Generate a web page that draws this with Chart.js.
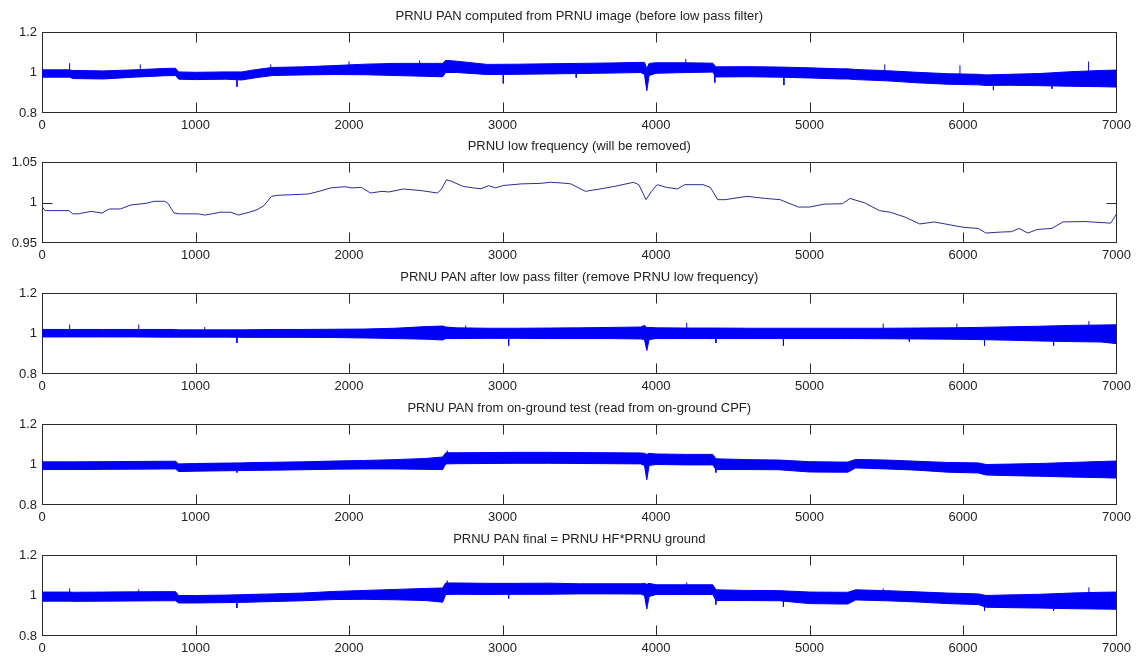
<!DOCTYPE html>
<html>
<head>
<meta charset="utf-8">
<script src="https://cdn.jsdelivr.net/npm/chart.js"></script>
<style>
  body { margin: 0; background: #fff; }
  .panel { position: absolute; left: 0; width: 1136px; height: 130px; }
</style>
</head>
<body>
<div class="panel" style="top:0px"><canvas id="c1" width="1136" height="130"></canvas></div>
<div class="panel" style="top:130px"><canvas id="c2" width="1136" height="130"></canvas></div>
<div class="panel" style="top:261px"><canvas id="c3" width="1136" height="130"></canvas></div>
<div class="panel" style="top:392px"><canvas id="c4" width="1136" height="130"></canvas></div>
<div class="panel" style="top:523px"><canvas id="c5" width="1136" height="130"></canvas></div>

<script>
// sample positions used for the envelopes of the noisy PAN profiles
const xs = [0,180,200,400,600,800,870,890,1000,1200,1300,1400,1500,1700,1900,
  2100,2300,2500,2610,2630,2700,2900,3100,3300,3500,3700,3900,3925,3940,3955,
  4000,4200,4370,4390,4600,4800,5000,5200,5250,5300,5500,5700,5900,
  6100,6150,6300,6500,6700,6900,7000];

// plot 1 : PRNU computed from image (upper / lower edge of the noise band)
const upper1 = [1.013,1.013,1.010,1.008,1.013,1.020,1.021,1.003,1.001,1.003,1.003,1.015,1.025,1.028,1.034,
  1.041,1.045,1.045,1.045,1.060,1.056,1.040,1.041,1.043,1.045,1.047,1.050,1.050,1.020,1.045,
  1.048,1.048,1.046,1.028,1.029,1.027,1.023,1.018,1.018,1.015,1.009,1.001,0.994,
  0.991,0.988,0.991,0.995,1.004,1.010,1.012];
const lower1 = [0.977,0.977,0.970,0.968,0.977,0.984,0.985,0.967,0.965,0.967,0.963,0.975,0.985,0.988,0.990,
  0.989,0.985,0.981,0.979,1.000,1.000,0.990,0.991,0.993,0.995,0.997,1.000,0.990,0.910,0.985,
  0.996,1.000,1.002,0.978,0.979,0.977,0.973,0.968,0.968,0.965,0.959,0.949,0.942,
  0.939,0.936,0.937,0.935,0.932,0.930,0.928];

// plot 3 : after low pass filter
const upper3 = [1.020,1.020,1.020,1.020,1.020,1.020,1.020,1.018,1.018,1.018,1.018,1.019,1.020,1.020,1.021,
  1.022,1.026,1.034,1.037,1.032,1.028,1.026,1.026,1.027,1.028,1.030,1.032,1.040,1.030,1.030,
  1.028,1.027,1.027,1.027,1.026,1.026,1.026,1.026,1.026,1.026,1.026,1.027,1.028,
  1.030,1.031,1.033,1.036,1.040,1.042,1.043];
const lower3 = [0.983,0.983,0.983,0.983,0.983,0.982,0.982,0.982,0.982,0.982,0.981,0.981,0.981,0.981,0.980,
  0.978,0.975,0.972,0.968,0.975,0.975,0.976,0.976,0.975,0.975,0.975,0.973,0.970,0.916,0.970,
  0.975,0.975,0.975,0.975,0.975,0.975,0.975,0.975,0.975,0.975,0.974,0.973,0.972,
  0.970,0.969,0.967,0.963,0.960,0.958,0.950];

// plot 4 : on-ground test
const upper4 = [1.013,1.013,1.013,1.014,1.015,1.016,1.016,1.003,1.005,1.007,1.008,1.010,1.011,1.013,1.017,
  1.020,1.024,1.030,1.037,1.058,1.058,1.059,1.060,1.060,1.059,1.058,1.057,1.055,1.050,1.055,
  1.052,1.050,1.050,1.028,1.024,1.022,1.014,1.012,1.012,1.025,1.022,1.016,1.010,
  1.008,1.000,1.002,1.005,1.010,1.015,1.017];
const lower4 = [0.975,0.975,0.975,0.976,0.977,0.978,0.978,0.965,0.967,0.969,0.970,0.971,0.972,0.974,0.977,
  0.978,0.978,0.976,0.975,1.003,1.004,1.005,1.006,1.006,1.005,1.004,1.003,0.995,0.925,0.995,
  1.000,0.998,0.998,0.975,0.975,0.974,0.963,0.962,0.962,0.983,0.978,0.972,0.962,
  0.958,0.948,0.945,0.942,0.938,0.935,0.933];

// plot 5 : final = HF * ground
const upper5 = [1.017,1.017,1.016,1.017,1.018,1.019,1.019,1.000,1.000,1.002,1.004,1.006,1.008,1.012,1.020,
  1.025,1.030,1.035,1.037,1.062,1.062,1.060,1.060,1.061,1.058,1.058,1.058,1.060,1.055,1.060,
  1.053,1.053,1.053,1.028,1.025,1.024,1.017,1.016,1.016,1.028,1.024,1.018,1.012,
  1.008,1.000,1.003,1.006,1.012,1.016,1.017];
const lower5 = [0.972,0.972,0.971,0.972,0.973,0.974,0.974,0.963,0.963,0.965,0.966,0.968,0.970,0.974,0.980,
  0.981,0.979,0.975,0.967,1.005,1.006,1.005,1.006,1.006,1.008,1.008,1.007,1.000,0.933,0.995,
  1.005,1.005,1.005,0.975,0.975,0.974,0.960,0.958,0.958,0.978,0.974,0.968,0.960,
  0.955,0.942,0.940,0.938,0.935,0.933,0.932];

// isolated spikes sticking out of the bands (position, tip value)
const spikeX1 = [180,640,1270,1490,2000,2460,3005,3480,4194,4383,4833,5490,5980,6198,6579,6818];
const spikeY1 = [1.046,1.040,0.930,1.040,1.055,1.060,0.946,0.975,1.067,0.950,0.938,1.040,1.035,0.913,0.920,1.054];
const spikeX3 = [180,630,1060,1270,2760,3040,4200,4390,4830,5480,5650,5960,6140,6590,6820];
const spikeY3 = [1.044,1.044,1.032,0.953,1.040,0.940,1.052,0.953,0.940,1.049,0.960,1.049,0.940,0.940,1.062];
const spikeX4 = [1270,2640,4390];
const spikeY4 = [0.960,1.070,0.960];
const spikeX5 = [180,630,1270,2640,3040,4200,4390,4830,5480,6140,6590,6820];
const spikeY5 = [1.035,1.030,0.938,1.075,0.985,1.065,0.955,0.945,1.035,0.925,0.925,1.040];

// plot 2 : low frequency component
const x2 = [0,20,60,175,200,235,320,390,440,510,580,680,730,800,820,860,895,1015,1060,1110,
  1160,1230,1280,1350,1400,1445,1495,1540,1640,1735,1805,1880,1975,2020,2080,2140,2215,2260,2355,2475,
  2575,2600,2635,2670,2740,2810,2860,2910,2955,3005,3125,3245,3315,3390,3445,3540,3636,3732,3852,3888,
  3935,3971,4007,4067,4139,4187,4306,4354,4402,4450,4593,4713,4809,4880,4928,5000,5096,5215,5263,5359,
  5455,5526,5622,5718,5813,5909,6005,6100,6148,6244,6316,6364,6423,6483,6579,6651,6794,6962,7000];
const y2 = [0.995,0.99,0.99,0.99,0.986,0.986,0.989,0.987,0.992,0.992,0.997,0.999,1.0015,1.0015,0.999,0.987,0.986,0.986,0.9845,0.986,
  0.988,0.988,0.9845,0.988,0.991,0.996,1.0076,1.009,1.0097,1.0105,1.0138,1.018,1.0195,1.018,1.0187,1.0117,1.0138,1.013,1.0167,1.0146,
  1.0117,1.0158,1.028,1.026,1.02,1.018,1.017,1.0208,1.018,1.021,1.023,1.0236,1.025,1.024,1.023,1.0138,1.0167,1.02,1.0249,1.022,
  1.0035,1.0138,1.022,1.0187,1.0167,1.022,1.022,1.0187,1.0035,1.0035,1.0076,1.005,1.0035,0.998,0.9944,0.9944,0.998,0.9985,1.005,0.9996,
  0.99,0.988,0.982,0.9735,0.976,0.9726,0.9693,0.968,0.9623,0.9635,0.964,0.968,0.9623,0.9667,0.968,0.976,0.9765,0.9745,0.9858];

const titles = [
  'PRNU PAN computed from PRNU image (before low pass filter)',
  'PRNU low frequency (will be removed)',
  'PRNU PAN after low pass filter (remove PRNU low frequency)',
  'PRNU PAN from on-ground test (read from on-ground CPF)',
  'PRNU PAN final = PRNU HF*PRNU ground'
];

const BLUE = 'rgb(0,0,245)';
const TXT = '#222';
Chart.defaults.font.family = 'Arial, "Liberation Sans", Helvetica, sans-serif';
Chart.defaults.font.size = 13;

// matlab style box with inward ticks, drawn under the data like matlab does
const boxPlugin = {
  id: 'matlabBox',
  beforeDatasetsDraw(chart) {
    const { ctx, chartArea: a, scales: { x, y } } = chart;
    const L = Math.round(a.left) + 0.5, R = Math.round(a.right) - 0.5;
    const T = Math.round(a.top) + 0.5, B = Math.round(a.bottom) - 0.5;
    ctx.save();
    ctx.strokeStyle = '#2a2a2a';
    ctx.lineWidth = 1;
    ctx.strokeRect(L, T, R - L, B - T);
    ctx.beginPath();
    x.ticks.forEach(t => {
      if (t.value <= x.min || t.value >= x.max) return;
      const px = Math.round(x.getPixelForValue(t.value)) + 0.5;
      ctx.moveTo(px, T); ctx.lineTo(px, T + 10);
      ctx.moveTo(px, B); ctx.lineTo(px, B - 10);
    });
    y.ticks.forEach(t => {
      if (t.value <= y.min + 1e-9 || t.value >= y.max - 1e-9) return;
      const py = Math.round(y.getPixelForValue(t.value)) + 0.5;
      ctx.moveTo(L, py); ctx.lineTo(L + 10, py);
      ctx.moveTo(R, py); ctx.lineTo(R - 10, py);
    });
    ctx.stroke();
    ctx.restore();
  }
};

function centerAt(xv, up, lo) {
  for (let i = 1; i < xs.length; i++) {
    if (xv <= xs[i]) {
      const f = (xv - xs[i - 1]) / (xs[i] - xs[i - 1]);
      const c0 = (up[i - 1] + lo[i - 1]) / 2, c1 = (up[i] + lo[i]) / 2;
      return c0 + f * (c1 - c0);
    }
  }
  return (up[up.length - 1] + lo[lo.length - 1]) / 2;
}

function bandSets(up, lo, sx, sy) {
  const spikes = [];
  sx.forEach((xv, i) => {
    spikes.push({ x: xv, y: centerAt(xv, up, lo) });
    spikes.push({ x: xv, y: sy[i] });
    spikes.push({ x: xv, y: null });
  });
  return [
    { data: xs.map((xv, i) => ({ x: xv, y: up[i] })), borderColor: BLUE, borderWidth: 1, fill: false },
    { data: xs.map((xv, i) => ({ x: xv, y: lo[i] })), borderColor: BLUE, borderWidth: 1, fill: '-1', backgroundColor: BLUE },
    { data: spikes, borderColor: BLUE, borderWidth: 1, fill: false, spanGaps: false }
  ];
}

function makeChart(id, title, yMin, yMax, yStep, datasets) {
  return new Chart(document.getElementById(id), {
    type: 'line',
    data: { datasets: datasets },
    options: {
      responsive: false,
      animation: false,
      events: [],
      elements: { point: { radius: 0 }, line: { tension: 0 } },
      layout: { padding: { left: 0, right: 19, top: 0.4, bottom: 0 } },
      plugins: {
        legend: { display: false },
        tooltip: { enabled: false },
        title: {
          display: true,
          text: title,
          fullSize: false,
          color: TXT,
          font: { size: 13, weight: 'normal' },
          padding: { top: 8, bottom: 8 }
        }
      },
      scales: {
        x: {
          type: 'linear',
          min: 0, max: 7000,
          grid: { display: false, drawTicks: false },
          border: { display: false },
          ticks: { stepSize: 1000, autoSkip: false, maxRotation: 0, padding: 5, color: TXT, callback: v => String(v) },
          afterFit(s) { s.height = 17; }
        },
        y: {
          min: yMin, max: yMax,
          grid: { display: false, drawTicks: false },
          border: { display: false },
          ticks: { stepSize: yStep, padding: 5, color: TXT, callback: v => String(+v.toFixed(2)) },
          afterFit(s) { s.width = 42; }
        }
      }
    },
    plugins: [boxPlugin]
  });
}

makeChart('c1', titles[0], 0.8, 1.2, 0.2, bandSets(upper1, lower1, spikeX1, spikeY1));
makeChart('c2', titles[1], 0.95, 1.05, 0.05, [
  { data: x2.map((xv, i) => ({ x: xv, y: y2[i] })), borderColor: '#2c2c96', borderWidth: 1, fill: false }
]);
makeChart('c3', titles[2], 0.8, 1.2, 0.2, bandSets(upper3, lower3, spikeX3, spikeY3));
makeChart('c4', titles[3], 0.8, 1.2, 0.2, bandSets(upper4, lower4, spikeX4, spikeY4));
makeChart('c5', titles[4], 0.8, 1.2, 0.2, bandSets(upper5, lower5, spikeX5, spikeY5));
</script>
</body>
</html>
